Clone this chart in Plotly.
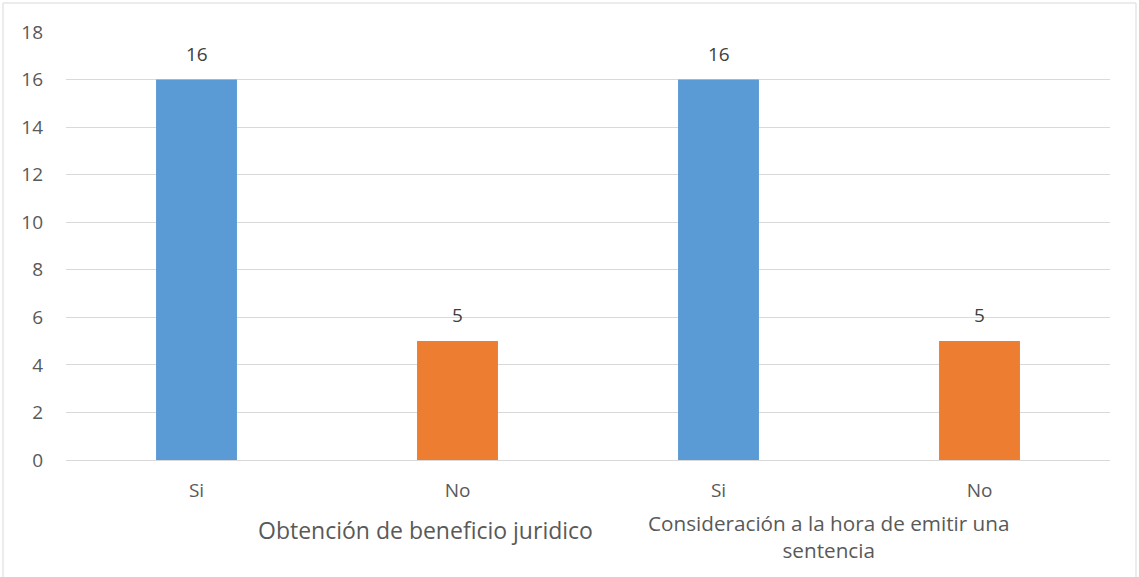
import plotly.graph_objects as go

categories = ["Si", "No", "Si", "No"]
values = [16, 5, 16, 5]
groups = ["Obtención de beneficio juridico", "Consideración a la hora de emitir una<br>sentencia"]
colors = ["#5B9BD5", "#ED7D31", "#5B9BD5", "#ED7D31"]

FONT = "'Open Sans', sans-serif"
GRAY = "#595959"

W, H = 1139, 577
ml, mr, mt, mb = 66, 29, 32, 117
ph = H - mt - mb
pw = W - ml - mr

xpos = list(range(len(categories)))

fig = go.Figure()
fig.add_trace(go.Bar(
    x=xpos, y=values, width=0.31,
    marker=dict(color=colors, line=dict(width=0)),
    hoverinfo="x+y",
))

for xv, v in zip(xpos, values):
    fig.add_annotation(x=xv, y=v, xref="x", yref="y", text=str(v), showarrow=False,
                       yanchor="bottom", yshift=11,
                       font=dict(family=FONT, size=19, color="#404040"))

def px_to_x(p):
    return -0.5 + (p - ml) / pw * 4

def py_to_paper(p):
    return (H - mb - p) / ph

fig.add_annotation(x=px_to_x(425), y=py_to_paper(530), xref="x", yref="paper",
                   text=groups[0], showarrow=False,
                   font=dict(family=FONT, size=23, color=GRAY), yanchor="middle")
fig.add_annotation(x=px_to_x(828), y=py_to_paper(536), xref="x", yref="paper",
                   text=groups[1], showarrow=False,
                   font=dict(family=FONT, size=20.7, color=GRAY), yanchor="middle")

fig.add_shape(type="rect", xref="paper", yref="paper",
              x0=(3 - ml) / pw, x1=(1136 - ml) / pw,
              y0=py_to_paper(580), y1=py_to_paper(3),
              line=dict(color="#D9D9D9", width=1), fillcolor="rgba(0,0,0,0)", layer="below")

fig.update_layout(
    width=W, height=H,
    margin=dict(l=ml, r=mr, t=mt, b=mb),
    plot_bgcolor="white", paper_bgcolor="white",
    showlegend=False,
    font=dict(family=FONT, color=GRAY),
    xaxis=dict(range=[-0.5, 3.5], tickmode="array", tickvals=xpos, ticktext=categories,
               tickfont=dict(family=FONT, size=19, color=GRAY), showgrid=False,
               showline=False, zeroline=False, ticks="", ticklabelstandoff=17),
    yaxis=dict(range=[0, 18], dtick=2, tickfont=dict(family=FONT, size=19, color=GRAY),
               showgrid=True, gridcolor="#D9D9D9", gridwidth=1,
               zeroline=True, zerolinecolor="#D9D9D9", zerolinewidth=1,
               showline=False, ticks="", ticklabelstandoff=22),
)

fig.write_html("out.html", config={"displayModeBar": False},
               post_script="document.body.style.margin='0';document.body.style.padding='0';")
